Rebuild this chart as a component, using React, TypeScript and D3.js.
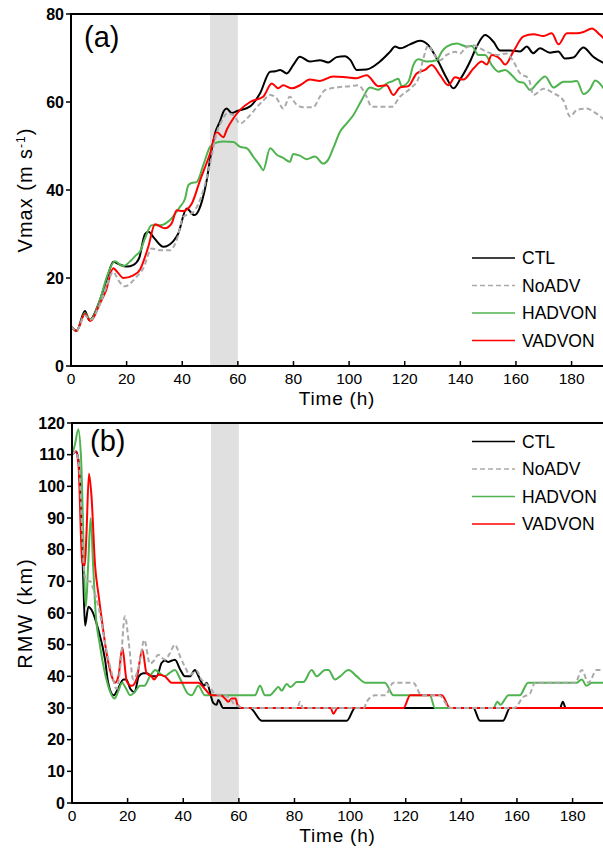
import React from "react";
import * as d3 from "d3";

type Pt = [number, number];

// ---------- tick labels ----------
const timeTicks = [0, 20, 40, 60, 80, 100, 120, 140, 160, 180];
const vmaxTicks = [0, 20, 40, 60, 80];
const rmwTicks = [0, 10, 20, 30, 40, 50, 60, 70, 80, 90, 100, 110, 120];
const seriesNames = ["CTL", "NoADV", "HADVON", "VADVON"];
const shadeWindow: Pt = [50, 60];

// ---------- panel (a): Vmax (m/s) ----------
const ctlVmax: Pt[] = [
  [0, 9], [2, 8], [5, 12.5], [6.6, 10.4], [10.4, 15], [13, 20], [15.2, 23.7], [17, 23.2], [20, 22.6],
  [22.5, 23], [24.5, 24.5], [26.6, 30], [27.8, 30.5], [30, 29], [33.2, 27.1], [36.8, 28.4], [38.5, 30],
  [41.6, 35.8], [44.3, 34.3], [46, 35.5], [47.2, 37.7], [48.8, 42.2], [50, 47], [51.8, 52.9], [53.5, 55.5],
  [55, 58], [56, 58.5], [57.8, 57.5], [60, 58], [64.4, 59], [68, 62], [71.6, 66.9], [73.5, 67], [75.2, 67.3],
  [77.6, 66.5], [80, 68.5], [82.3, 70.3], [85.9, 69.2], [89.5, 69.5], [92.5, 69], [95.5, 70.2], [98.5, 70.4],
  [100.5, 69.5], [102.7, 67.3], [106.3, 67.4], [111.1, 69.2], [114.7, 71.4], [116.5, 72.6], [118.3, 72.2],
  [121.9, 73.1], [125.5, 73.9], [128.5, 72.9], [131.5, 69.9], [135.1, 65.4], [137.5, 63.1], [139.9, 65.1],
  [143.5, 69.2], [145.9, 72.6], [148.9, 75.2], [151.9, 73.7], [154.3, 71.7], [157.9, 71.7], [161.5, 71.5],
  [163.9, 72.6], [166.2, 71.1], [168.6, 72.2], [172.2, 71.2], [175.2, 71.5], [177.6, 69.9], [180.6, 70.1],
  [184.2, 72.4], [187.8, 70.3], [191.5, 68.9],
];
const noadvVmax: Pt[] = [
  [0, 9], [2, 8], [5, 11.5], [7, 10.5], [10.4, 14], [13, 18.5], [15.2, 21.4], [17, 19.5], [19.4, 18.1],
  [23.6, 20.3], [26, 22.2], [29, 26.7], [32, 26.3], [35.6, 26.3], [38, 28.6], [40.4, 33.9], [44, 35],
  [47.6, 40], [50, 46], [52.4, 53], [54.5, 56], [56, 57.4], [58.4, 57], [60.8, 55.1], [63.2, 56.2],
  [66.8, 58.8], [69.1, 60.3], [71.6, 61.6], [74, 60.8], [76.3, 58.5], [78.7, 61.2], [81.1, 59.4],
  [83.5, 58.8], [87.1, 58.8], [89.5, 61.2], [91.3, 62.7], [95.5, 63.3], [100.3, 63.6], [103.3, 63.8],
  [106.3, 61.2], [108.1, 58.9], [112.3, 58.9], [115.3, 58.9], [118.3, 61.2], [121.9, 63], [124.9, 65.3],
  [126.7, 69.9], [128.5, 72.9], [130.3, 71], [132.7, 69.5], [135.1, 70.7], [138.1, 71.4], [139.9, 71],
  [141.7, 72.2], [144.7, 72.9], [147.1, 72.2], [149.5, 71.4], [153.1, 70.7], [156.7, 71], [159.1, 69.2],
  [161.5, 66.5], [164.5, 65.4], [166.3, 61.6], [169.9, 63], [173.5, 62], [177.1, 60.3], [179.5, 56.7],
  [181.9, 58.2], [185.5, 58.5], [187.9, 57.8], [191.5, 56.1],
];
const hadvonVmax: Pt[] = [
  [0, 9], [2, 8], [5, 12], [7, 10.5], [10.4, 15], [13, 20.5], [15.8, 23.8], [18.7, 22.7], [21.6, 24],
  [23.4, 25.2], [24.8, 26], [26.6, 29], [29, 32], [32, 32], [35.6, 33.2], [39.2, 36.2], [41, 38],
  [42.2, 41.1], [43.4, 41.6], [45.2, 41.8], [47.6, 45.7], [50, 49.8], [52.4, 50.8], [55, 51], [58.4, 50.9],
  [60.8, 49.8], [63.2, 49.5], [65.6, 47.5], [68, 45.5], [69.1, 44.5], [71.6, 49.5], [74, 48], [76.3, 47.3],
  [78.7, 46.4], [79.9, 48.2], [82.3, 47.8], [84.7, 47], [87.7, 47.6], [90.7, 46], [92.5, 46.9],
  [94.3, 49.5], [96.7, 53.2], [99.1, 55.1], [101.5, 57], [104.5, 60.4], [107.5, 63.3], [110.5, 62.8],
  [113.5, 64.2], [115.9, 64.8], [117.7, 65.3], [118.9, 63.6], [121.3, 64.6], [123.1, 68.4], [124.9, 69.7],
  [127.9, 69.2], [131.5, 69.5], [133.3, 71.4], [135.1, 72.6], [138.7, 73.3], [142.3, 72.6], [144.1, 72.7],
  [146.5, 70.7], [148.9, 70.7], [151.3, 68.4], [153.7, 66.9], [156.1, 67.3], [158.5, 66.1], [160.9, 64.6],
  [162.7, 64.4], [165.1, 62.7], [167.5, 64.2], [170.5, 65.8], [173.5, 63.3], [177.1, 64.6], [180.1, 64.6],
  [181.9, 64.8], [184.3, 61.8], [186.7, 63], [188.5, 64.9], [191.5, 63.1],
];
const vadvonVmax: Pt[] = [
  [0, 9], [2, 8], [5, 11.8], [7, 10.2], [10.4, 14.2], [12.5, 17], [15.2, 22.2], [16.5, 21.5], [18.8, 20],
  [22.4, 20.6], [24.8, 21.9], [27.8, 27.1], [30.2, 32.2], [33.8, 31.3], [36.2, 32.4], [38, 35.4],
  [40.2, 35.2], [43.4, 36.9], [46.4, 42.2], [50, 48.3], [52.4, 53.2], [54.8, 52], [56, 53.7], [58.4, 56.3],
  [60.8, 58.2], [64.4, 60], [69.1, 61.2], [72.2, 64.2], [74.5, 63.1], [76.3, 63.8], [79.4, 63.1],
  [82.3, 63.8], [85.9, 65.1], [89.5, 64.8], [94.3, 65.8], [99.1, 65.6], [102.7, 65.4], [106.3, 66.1],
  [110.5, 63.6], [113.5, 63.8], [115.9, 61.6], [118.3, 63.3], [121.3, 63.6], [124.3, 66.5], [127.3, 67.3],
  [129.7, 68.4], [132.7, 66.1], [135.7, 63.8], [138.1, 65.6], [141.1, 65.1], [144.7, 67.6], [147.7, 69.2],
  [149.5, 68.5], [151.3, 70.7], [154.3, 69.8], [156.1, 68.5], [159.1, 71.5], [162.7, 74.9], [166.3, 75.4],
  [169.9, 75], [172.9, 75.6], [175.3, 73.1], [178.3, 75.6], [181.9, 75.6], [184.3, 75.9], [187.3, 76.7],
  [190.3, 75.2], [191.5, 74.5],
];

// ---------- panel (b): RMW (km) ----------
const ctlRmw: Pt[] = [
  [0, 110], [1.5, 111], [2.5, 107], [4, 72], [4.7, 56], [5.9, 62], [7, 61], [9.5, 54.6], [11.9, 45.2],
  [13, 38], [15, 34], [16.5, 36], [18.5, 39], [19.5, 39], [21, 36], [22.5, 35], [24, 40], [25.6, 41],
  [27, 41], [28.6, 40], [30.5, 40], [32.2, 44.2], [33.5, 45], [34.6, 44.5], [36, 45], [37, 45.2], [39, 42],
  [40.6, 40], [42.4, 40], [44.2, 42], [45.5, 40], [46.6, 38], [47.5, 37], [48.4, 38], [50.8, 31.6],
  [52, 31], [52.6, 32.5], [54.4, 30], [64, 30], [68.2, 26], [98.8, 26], [101.8, 30], [144.3, 30],
  [146.7, 26], [155, 26], [157.5, 30], [175.5, 30], [176.5, 32], [177.5, 30], [191.5, 30],
];
const noadvRmw: Pt[] = [
  [0, 110], [1.3, 111], [2.5, 107], [4.5, 72], [5.3, 70], [6.5, 70], [7.5, 68], [10, 60], [12, 50],
  [14.3, 41], [16, 36], [17.5, 44], [19, 59], [20.5, 50], [22, 39], [24, 43], [26, 51.5], [28, 44],
  [29.5, 45], [31, 46.8], [33.4, 45.2], [35, 47], [37, 50], [39, 46], [40.6, 43], [42.5, 40.5],
  [44.8, 41.8], [46.5, 39], [47.8, 38], [50, 36], [51.4, 34.4], [55, 34], [57.4, 32.3], [58.5, 31],
  [60, 30.5], [61.6, 30], [81, 30], [82, 32], [83, 30], [105, 30], [106, 32], [109, 34], [112.6, 34],
  [115.6, 38], [122.7, 38], [125.7, 34], [132, 34], [136, 30], [159, 30], [162.3, 33.5], [164.7, 34.6],
  [166.5, 38], [181, 38], [183.3, 42], [185.7, 38], [188.7, 42], [191.5, 42],
];
const hadvonRmw: Pt[] = [
  [0, 110], [1, 113], [2.3, 118], [3.2, 110], [5, 62], [5.8, 75], [6.7, 90], [7.6, 75], [8.5, 60],
  [10, 50], [13, 37], [15.3, 33], [16.5, 35], [18, 38], [19.5, 36], [21, 34], [22.5, 35], [24.5, 37],
  [26, 37], [28, 40], [30, 42], [31.5, 41], [33.4, 40], [35, 41], [37, 42], [39, 39], [41.8, 34.4],
  [43, 34], [45.4, 37], [47.8, 34], [65.8, 34], [67.6, 37], [69.4, 34], [71, 34], [73, 35.6],
  [74.2, 36.6], [75.4, 35.5], [77.2, 37.6], [78.6, 36.6], [80.8, 38.2], [83.2, 38.2], [86.2, 42],
  [88, 40], [91, 42], [92.2, 42], [94.6, 39], [96.4, 40], [99.4, 42], [102.4, 40], [105.4, 38],
  [112.5, 38], [115.6, 34], [128.7, 34], [130.5, 30], [151.5, 30], [153, 32], [154, 31], [157, 34],
  [161, 34], [164, 38], [181.5, 38], [183.3, 39], [185, 37], [187, 38], [191.5, 38],
];
const vadvonRmw: Pt[] = [
  [0, 110], [1.3, 111], [2.3, 107], [3.7, 76], [4.6, 75], [5.2, 85], [6.1, 104], [7, 97], [8.3, 75],
  [9.5, 66], [10.7, 58], [12.5, 47], [14.3, 40], [15.5, 38], [16.7, 40], [18.1, 49], [19.7, 38.4],
  [21.5, 37], [23.3, 39.4], [25.3, 48.4], [26.8, 41], [28.6, 40], [29.5, 39], [31, 40.5], [33.4, 40],
  [35.8, 38], [45.4, 38], [47.8, 36], [50.2, 34], [53.5, 34], [55, 33], [56.2, 32], [57.5, 33],
  [58.8, 33], [59.5, 31], [61, 30], [93, 30], [94, 28.2], [95.5, 30], [119.2, 30], [121.6, 34], [133, 34],
  [135.9, 30], [191.5, 30],
];

// ---------- styles ----------
const STYLE: Record<string, { color: string; dash?: string }> = {
  CTL: { color: "#000000" },
  NoADV: { color: "#aaaaaa", dash: "5 3" },
  HADVON: { color: "#4fb34f" },
  VADVON: { color: "#ff0000" },
};
const FONT = "'Liberation Sans', Arial, Helvetica, sans-serif";
const W = 603;
const H = 851;
const PX_PER_HOUR = 2.781;
const T_MAX = 192;

type PanelProps = {
  id: string;
  left: number;
  top: number;
  bottom: number;
  yDomain: [number, number];
  yTicks: number[];
  series: Record<string, Pt[]>;
  tag: string;
  tagX: number;
  tagY: number;
  yTitle: React.ReactNode;
  yTitleSpacing: number;
  legendTop: number;
};

function Panel(p: PanelProps) {
  const x = d3.scaleLinear().domain([0, T_MAX]).range([p.left, p.left + T_MAX * PX_PER_HOUR]);
  const y = d3.scaleLinear().domain(p.yDomain).range([p.bottom, p.top]);
  const line = d3
    .line<Pt>()
    .x((d) => x(d[0]))
    .y((d) => y(d[1]))
    .curve(d3.curveMonotoneX);
  const drawOrder = ["CTL", "HADVON", "VADVON", "NoADV"];
  const right = W + 10;
  const legendStep = 27.5;
  return (
    <g>
      <defs>
        <clipPath id={`clip-${p.id}`}>
          <rect x={p.left} y={p.top} width={right - p.left} height={p.bottom - p.top} />
        </clipPath>
      </defs>
      <rect
        x={x(shadeWindow[0])}
        y={p.top}
        width={x(shadeWindow[1]) - x(shadeWindow[0])}
        height={p.bottom - p.top}
        fill="#e0e0e0"
      />
      <g clipPath={`url(#clip-${p.id})`}>
        {drawOrder.map((name) => (
          <path
            key={name}
            d={line(p.series[name]) || ""}
            fill="none"
            stroke={STYLE[name].color}
            strokeWidth={2}
            strokeDasharray={STYLE[name].dash}
            strokeLinejoin="round"
          />
        ))}
      </g>
      {/* spines */}
      <line x1={p.left} x2={right} y1={p.top} y2={p.top} stroke="#000" strokeWidth={2} />
      <line x1={p.left} x2={right} y1={p.bottom} y2={p.bottom} stroke="#000" strokeWidth={2} />
      <line x1={p.left} x2={p.left} y1={p.top - 1} y2={p.bottom + 1} stroke="#000" strokeWidth={2} />
      {/* y ticks */}
      {p.yTicks.map((v) => (
        <g key={`y${v}`}>
          <line x1={p.left - 5} x2={p.left} y1={y(v)} y2={y(v)} stroke="#000" strokeWidth={1.5} />
          <text
            x={p.left - 7}
            y={y(v) + 5.7}
            textAnchor="end"
            fontFamily={FONT}
            fontWeight="bold"
            fontSize={16}
          >
            {v}
          </text>
        </g>
      ))}
      {/* x ticks */}
      {timeTicks.map((t) => (
        <g key={`x${t}`}>
          <line x1={x(t)} x2={x(t)} y1={p.bottom} y2={p.bottom - 5} stroke="#000" strokeWidth={1.5} />
          <text x={x(t)} y={p.bottom + 18} textAnchor="middle" fontFamily={FONT} fontSize={15.5}>
            {t}
          </text>
        </g>
      ))}
      {/* axis titles */}
      <text
        x={(p.left + W) / 2}
        y={p.bottom + 39}
        textAnchor="middle"
        fontFamily={FONT}
        fontSize={19}
        letterSpacing={0.8}
      >
        Time (h)
      </text>
      <text
        transform={`translate(32,${(p.top + p.bottom) / 2}) rotate(-90)`}
        textAnchor="middle"
        fontFamily={FONT}
        fontSize={20}
        letterSpacing={p.yTitleSpacing}
      >
        {p.yTitle}
      </text>
      <text x={p.tagX} y={p.tagY} fontFamily={FONT} fontSize={29}>
        {p.tag}
      </text>
      {/* legend */}
      {seriesNames.map((name, i) => {
        const ly = p.legendTop + i * legendStep;
        return (
          <g key={`lg${name}`}>
            <line
              x1={472}
              x2={515}
              y1={ly}
              y2={ly}
              stroke={STYLE[name].color}
              strokeWidth={1.4}
              strokeDasharray={STYLE[name].dash}
            />
            <text x={522} y={ly + 6.3} fontFamily={FONT} fontSize={17.5}>
              {name}
            </text>
          </g>
        );
      })}
    </g>
  );
}

export default function App() {
  return (
    <svg
      width={W}
      height={H}
      viewBox={`0 0 ${W} ${H}`}
      style={{ position: "absolute", left: 0, top: 0, background: "#fff" }}
    >
      <rect x={0} y={0} width={W} height={H} fill="#fff" />
      <Panel
        id="a"
        left={71}
        top={14}
        bottom={366}
        yDomain={[0, 80]}
        yTicks={vmaxTicks}
        series={{ CTL: ctlVmax, NoADV: noadvVmax, HADVON: hadvonVmax, VADVON: vadvonVmax }}
        tag="(a)"
        tagX={84}
        tagY={47}
        yTitle={
          <>
            Vmax (m s
            <tspan fontSize={12} dy={-7}>
              -1
            </tspan>
            <tspan dy={7}>)</tspan>
          </>
        }
        yTitleSpacing={1}
        legendTop={258}
      />
      <Panel
        id="b"
        left={72}
        top={423}
        bottom={803}
        yDomain={[0, 120]}
        yTicks={rmwTicks}
        series={{ CTL: ctlRmw, NoADV: noadvRmw, HADVON: hadvonRmw, VADVON: vadvonRmw }}
        tag="(b)"
        tagX={90}
        tagY={451}
        yTitle="RMW (km)"
        yTitleSpacing={2}
        legendTop={441.5}
      />
    </svg>
  );
}
